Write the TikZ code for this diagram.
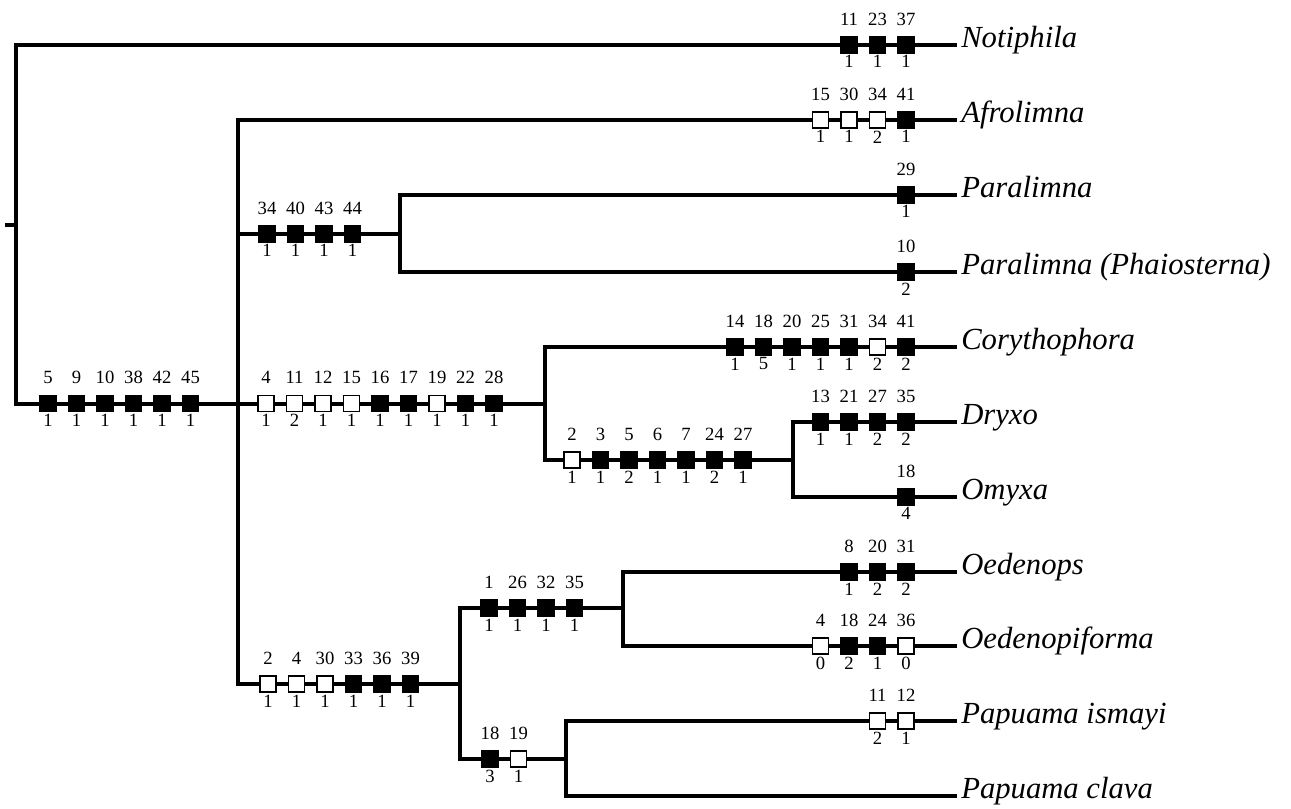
\documentclass[tikz,border=0pt]{standalone}
\usepackage{fontspec}
\setmainfont{Liberation Serif}
\usepackage{tikz}
\usetikzlibrary{positioning}

\begin{document}
\begin{tikzpicture}[
  x=0.75pt, y=-0.75pt,
  branch/.style={line width=3pt},
  chr/.style={draw, line width=1pt, minimum size=12.2pt, inner sep=0pt},
  numup/.style={inner sep=0pt, font=\fontsize{14}{14}\selectfont},
  numdn/.style={inner sep=0pt, font=\fontsize{14}{14}\selectfont},
  taxon/.style={anchor=west, inner xsep=3pt, inner ysep=0pt, text height=0.66em, text depth=0.22em,
    font=\itshape\fontsize{23}{24}\selectfont}
]
  \useasboundingbox (0,0) rectangle (1291,808);

  % internal nodes
  \coordinate (stub) at (5,224.5);
  \coordinate (root) at (16,224.5);
  \coordinate (ingrp) at (238,403.5);
  \coordinate (para) at (400,234);
  \coordinate (cent) at (545,403.5);
  \coordinate (dro) at (793,460);
  \coordinate (bot) at (460,684);
  \coordinate (oed) at (623,608);
  \coordinate (pap) at (566,759);

  % taxa
  \node[taxon] (noti) at (957,45) {Notiphila};
  \node[taxon] (afro) at (957,120) {Afrolimna};
  \node[taxon] (parl) at (957,195) {Paralimna};
  \node[taxon] (phai) at (957,272) {Paralimna (Phaiosterna)};
  \node[taxon] (cory) at (957,347) {Corythophora};
  \node[taxon] (dryx) at (957,422) {Dryxo};
  \node[taxon] (omyx) at (957,497) {Omyxa};
  \node[taxon] (oedn) at (957,572) {Oedenops};
  \node[taxon] (oedf) at (957,646) {Oedenopiforma};
  \node[taxon] (pism) at (957,721) {Papuama ismayi};
  \node[taxon] (pcla) at (957,796) {Papuama clava};

  % branches
  \draw[branch] (stub) -- (root);
  \draw[branch] (root) |- (noti.west);
  \draw[branch] (root) |- (ingrp);
  \draw[branch] (ingrp) |- (afro.west);
  \draw[branch] (ingrp) |- (para);
  \draw[branch] (ingrp) |- (cent);
  \draw[branch] (ingrp) |- (bot);
  \draw[branch] (para) |- (parl.west);
  \draw[branch] (para) |- (phai.west);
  \draw[branch] (cent) |- (cory.west);
  \draw[branch] (cent) |- (dro);
  \draw[branch] (dro) |- (dryx.west);
  \draw[branch] (dro) |- (omyx.west);
  \draw[branch] (bot) |- (oed);
  \draw[branch] (bot) |- (pap);
  \draw[branch] (oed) |- (oedn.west);
  \draw[branch] (oed) |- (oedf.west);
  \draw[branch] (pap) |- (pism.west);
  \draw[branch] (pap) |- (pcla.west);

  % character changes: prefix / first x / y / {character/state/fill}
  \foreach \p/\x/\y/\l in {
      nt/849/45/{11/1/black,23/1/black,37/1/black},
      af/820.5/120/{15/1/white,30/1/white,34/2/white,41/1/black},
      pl/906/195/{29/1/black},
      ph/906/272/{10/2/black},
      cy/735/347/{14/1/black,18/5/black,20/1/black,25/1/black,31/1/black,34/2/white,41/2/black},
      dr/820.5/422/{13/1/black,21/1/black,27/2/black,35/2/black},
      om/906/497/{18/4/black},
      on/849/572/{8/1/black,20/2/black,31/2/black},
      of/820.5/646/{4/0/white,18/2/black,24/1/black,36/0/white},
      pi/877.5/721/{11/2/white,12/1/white},
      ig/48/403.5/{5/1/black,9/1/black,10/1/black,38/1/black,42/1/black,45/1/black},
      pa/267/234/{34/1/black,40/1/black,43/1/black,44/1/black},
      ce/266/403.5/{4/1/white,11/2/white,12/1/white,15/1/white,16/1/black,17/1/black,19/1/white,22/1/black,28/1/black},
      ds/572/460/{2/1/white,3/1/black,5/2/black,6/1/black,7/1/black,24/2/black,27/1/black},
      bt/268/684/{2/1/white,4/1/white,30/1/white,33/1/black,36/1/black,39/1/black},
      oe/489/608/{1/1/black,26/1/black,32/1/black,35/1/black},
      pp/490/759/{18/3/black,19/1/white}}
    \foreach \n/\s/\f [count=\i from 0] in \l {
      \node[chr, fill=\f] (\p\i) at ({\x+28.5*\i},\y) {};
      \node[numup, above=8pt of \p\i] (\p\i n) {\n};
      \node[numdn, below=1.2pt of \p\i] (\p\i s) {\s};
    };
\end{tikzpicture}
\end{document}
